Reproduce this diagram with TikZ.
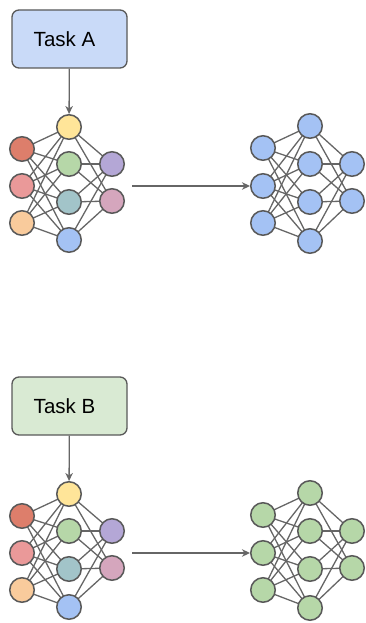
\documentclass[tikz,border=0pt]{standalone}
\usepackage{fontspec}
\setmainfont{Liberation Sans}
\usetikzlibrary{arrows.meta,backgrounds}
\definecolor{cRed}{HTML}{DD7E6B}
\definecolor{cPink}{HTML}{EA9999}
\definecolor{cOrange}{HTML}{F9CB9C}
\definecolor{cYellow}{HTML}{FFE599}
\definecolor{cGreen}{HTML}{B6D7A8}
\definecolor{cTeal}{HTML}{A2C4C9}
\definecolor{cBlue}{HTML}{A4C2F4}
\definecolor{cPurple}{HTML}{B4A7D6}
\definecolor{cMauve}{HTML}{D5A6BD}
\definecolor{boxA}{HTML}{C9DAF8}
\definecolor{boxB}{HTML}{D9EAD3}
\definecolor{edge}{HTML}{666666}
\definecolor{border}{HTML}{595959}
\tikzset{
  neuron/.style={circle, draw=border, line width=1.5pt, minimum size=24.5pt, inner sep=0pt},
  conn/.style={draw=edge, line width=1.3pt},
  taskbox/.style={draw=border, line width=1.3pt, rounded corners=7pt, minimum width=115pt, minimum height=58pt},
  tasklabel/.style={font=\fontsize{20.5}{24}\selectfont},
  flow/.style={draw=edge, line width=1.3pt, -{Stealth[length=8pt,width=7.5pt,inset=2.5pt]}}
}
\begin{document}
\begin{tikzpicture}[x=1pt,y=-1pt]
\useasboundingbox (0,0) rectangle (366,623);
\foreach \net/\dy/\tcol/\tname/\rc in {A/0/boxA/Task A/cBlue, B/367/boxB/Task B/cGreen} {
  \node[taskbox, fill=\tcol] (task\net) at (69.5, \dy+39) {};
  \node[tasklabel] (label\net) at (64.5, \dy+39) {\tname};
  % left network
  \foreach \y/\c [count=\i] in {149/cRed,186/cPink,223/cOrange} {\node[neuron, fill=\c] (L\net i\i) at (22, \dy+\y) {};}
  \foreach \y/\c [count=\i] in {127/cYellow,164/cGreen,202/cTeal,240/cBlue} {\node[neuron, fill=\c] (L\net h\i) at (69, \dy+\y) {};}
  \foreach \y/\c [count=\i] in {164/cPurple,201/cMauve} {\node[neuron, fill=\c] (L\net o\i) at (112, \dy+\y) {};}
  % right network
  \foreach \y [count=\i] in {148,186,223} {\node[neuron, fill=\rc] (R\net i\i) at (263, \dy+\y) {};}
  \foreach \y [count=\i] in {126,164,202,241} {\node[neuron, fill=\rc] (R\net h\i) at (310, \dy+\y) {};}
  \foreach \y [count=\i] in {164,201} {\node[neuron, fill=\rc] (R\net o\i) at (352, \dy+\y) {};}
}
\begin{pgfonlayer}{background}
\foreach \net in {A,B} {
  \foreach \s in {L,R} {
    \foreach \i in {1,2,3} { \foreach \h in {1,2,3,4} { \draw[conn] (\s\net i\i.center) -- (\s\net h\h.center); } }
    \foreach \h in {1,2,3,4} { \foreach \o in {1,2} { \draw[conn] (\s\net h\h.center) -- (\s\net o\o.center); } }
  }
}
\end{pgfonlayer}
\foreach \net in {A,B} { \draw[flow] (task\net) -- (L\net h1); }
\coordinate (fa) at (132,186); \coordinate (ta) at (250,186);
\coordinate (fb) at (132,553); \coordinate (tb) at (250,553);
\draw[flow] (fa) -- (ta);
\draw[flow] (fb) -- (tb);
\end{tikzpicture}
\end{document}
